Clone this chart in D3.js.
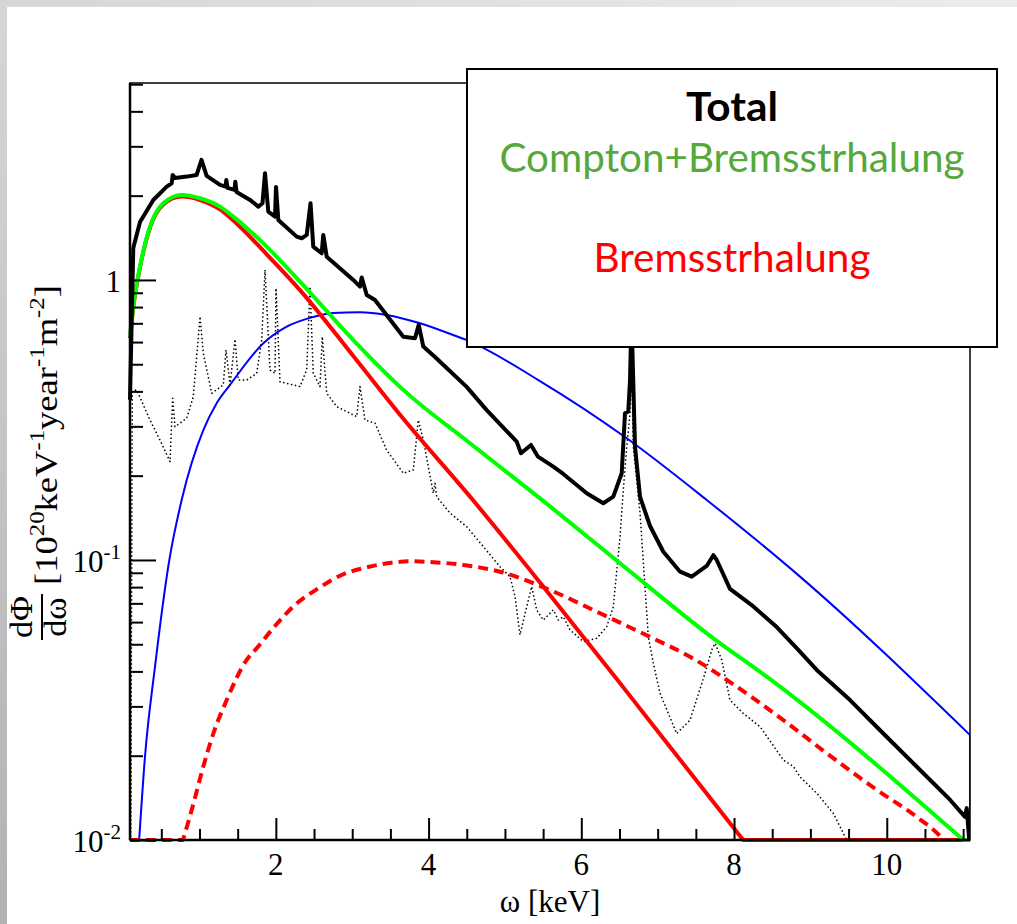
<!DOCTYPE html>
<html><head><meta charset="utf-8">
<script src="https://cdn.jsdelivr.net/npm/d3@7"></script>
<style>body{margin:0;background:#fff}svg{display:block}</style>
</head><body>
<svg id="chart" width="1017" height="924"></svg>
<script>
// ---------- data (energy in keV, flux in 1e20 keV^-1 year^-1 m^-2) ----------
const xDomain = [0.09, 11.09];
const yDomain = [0.01, 5.05];
const xMajorTicks = [2, 4, 6, 8, 10];
const xMinorTicks = [0.5,1,1.5,2.5,3,3.5,4.5,5,5.5,6.5,7,7.5,8.5,9,9.5,10.5,11];
const yMajorTicks = [0.01, 0.1, 1];
const yMinorTicks = [0.02,0.03,0.04,0.05,0.06,0.07,0.08,0.09,0.2,0.3,0.4,0.5,0.6,0.7,0.8,0.9,2,3,4,5];
const xTickLabels = ["2", "4", "6", "8", "10"];
const yTickLabels = [["10","-2"], ["10","-1"], ["1",""]];
const legendLabels = ["Total", "Compton+Bremsstrhalung", "Bremsstrhalung"];

const primakoffE = [0.21,0.286,0.417,0.605,0.767,1.05,1.225,1.40,1.836,2.142,2.447,2.748,3.102,3.452,3.888,4.32,4.499,5.437,6.595,7.642,8.864,11.09,11.09];
const primakoffFlux = [0.01,0.0198,0.0415,0.1,0.164,0.291,0.363,0.422,0.594,0.681,0.732,0.762,0.767,0.75,0.70,0.636,0.61,0.439,0.272,0.1638,0.0872,0.0237,0.01];

const comptonBremsE = [0.09,0.133,0.221,0.352,0.526,0.767,1.007,1.269,1.443,1.88,2.316,3.014,3.669,4.543,5.459,6.507,7.729,8.428,11.003,11.09];
const comptonBremsFlux = [0.627,0.803,1.116,1.55,1.879,2.012,1.958,1.827,1.683,1.315,0.986,0.61,0.405,0.261,0.166,0.0973,0.0525,0.0383,0.01,0.01];

const bremsE = [0.09,0.133,0.221,0.352,0.526,0.767,1.007,1.269,1.443,1.88,2.316,3.014,3.626,4.586,5.459,6.464,6.90,8.12,11.09];
const bremsFlux = [0.62,0.797,1.108,1.538,1.86,1.985,1.93,1.785,1.63,1.235,0.92,0.535,0.33,0.163,0.0831,0.0376,0.0265,0.01,0.01];

const comptonE = [0.09,0.784,0.898,1.05,1.181,1.356,1.618,1.749,1.989,2.251,2.556,2.883,3.19,3.517,3.757,3.996,4.455,4.935,5.59,6.245,6.90,7.424,8.035,8.646,9.214,9.869,10.39,10.70,10.74,11.09];
const comptonFlux = [0.01,0.01,0.0128,0.0183,0.024,0.0316,0.044,0.0484,0.0581,0.0691,0.0792,0.0889,0.0941,0.0978,0.0989,0.0984,0.096,0.0908,0.0781,0.0645,0.0531,0.0451,0.0353,0.0268,0.0204,0.0151,0.0121,0.0103,0.01,0.01];

const atomicE = [0.09,0.10,0.12,0.178,0.352,0.483,0.614,0.649,0.679,0.833,0.919,1.007,1.05,1.16,1.312,1.347,1.40,1.465,1.508,1.618,1.749,1.815,1.858,1.923,1.989,2.002,2.054,2.316,2.404,2.447,2.49,2.578,2.608,2.666,2.797,3.059,3.102,3.167,3.298,3.45,3.669,3.80,3.865,3.931,4.062,4.084,4.107,4.281,4.499,4.717,4.935,5.066,5.132,5.197,5.285,5.35,5.416,5.502,5.633,5.699,5.764,5.852,6.026,6.202,6.333,6.419,6.507,6.55,6.595,6.638,6.655,6.681,6.769,6.857,6.877,6.943,7.031,7.249,7.424,7.62,7.708,7.751,7.839,7.947,8.122,8.34,8.646,8.777,8.864,9.083,9.30,9.476,11.09];
const atomicFlux = [0.01,0.01,0.40,0.405,0.316,0.268,0.2244,0.378,0.299,0.321,0.383,0.74,0.547,0.394,0.422,0.562,0.422,0.614,0.439,0.439,0.464,0.61,1.086,0.477,0.464,0.934,0.433,0.416,0.477,0.946,0.464,0.416,0.627,0.394,0.353,0.325,0.416,0.316,0.308,0.247,0.204,0.2096,0.316,0.268,0.173,0.188,0.168,0.147,0.1315,0.1116,0.0946,0.0872,0.074,0.054,0.0681,0.0803,0.0663,0.061,0.0663,0.061,0.0627,0.0562,0.0511,0.0525,0.0578,0.0681,0.121,0.178,0.254,0.334,0.6,0.254,0.147,0.0645,0.0532,0.0428,0.0334,0.024,0.0268,0.0394,0.0477,0.0504,0.044,0.0316,0.0283,0.0254,0.0193,0.0183,0.0168,0.0147,0.01245,0.01,0.01];

const totalE = [0.09,0.112,0.133,0.221,0.395,0.571,0.636,0.649,0.679,0.833,0.963,1.026,1.094,1.269,1.341,1.351,1.367,1.458,1.469,1.485,1.662,1.77,1.825,1.858,1.901,1.989,2.002,2.032,2.273,2.339,2.404,2.454,2.49,2.6,2.621,2.666,3.014,3.102,3.124,3.19,3.298,3.669,3.822,3.871,3.931,4.084,4.499,4.761,5.154,5.21,5.341,5.433,5.633,5.764,6.071,6.288,6.419,6.529,6.572,6.615,6.638,6.657,6.703,6.769,6.90,7.074,7.293,7.446,7.642,7.729,7.773,7.947,8.231,8.559,8.82,9.083,9.519,9.955,10.39,10.83,11.025,11.047,11.08];
const totalFlux = [0.373,0.72,1.30,1.61,1.93,2.154,2.215,2.371,2.313,2.339,2.371,2.683,2.352,2.184,2.154,2.276,2.132,2.096,2.244,2.062,1.931,1.827,1.879,2.405,1.754,1.683,2.148,1.638,1.428,1.409,1.448,1.879,1.315,1.245,1.448,1.211,1.0,0.946,1.021,0.884,0.848,0.627,0.619,0.691,0.578,0.531,0.415,0.343,0.2646,0.2405,0.2575,0.2338,0.2155,0.2028,0.173,0.1594,0.1683,0.204,0.334,0.339,0.439,0.75,0.254,0.168,0.1322,0.107,0.0908,0.0872,0.0952,0.104,0.1,0.0788,0.069,0.0576,0.0484,0.0405,0.0316,0.024,0.0183,0.0139,0.0121,0.013,0.01];

// ---------- drawing ----------
const svg = d3.select("#chart");
const W = 1017, H = 924;
const plot = {left:130, right:970, top:83, bottom:840};

// slide-like grey border
const defs = svg.append("defs");
const gTop = defs.append("linearGradient").attr("id","gTop").attr("x1",0).attr("x2",1).attr("y1",0).attr("y2",0);
gTop.append("stop").attr("offset","0%").attr("stop-color","#d6d6d6");
gTop.append("stop").attr("offset","100%").attr("stop-color","#ececec");
const gLeft = defs.append("linearGradient").attr("id","gLeft").attr("x1",0).attr("x2",0).attr("y1",0).attr("y2",1);
gLeft.append("stop").attr("offset","0%").attr("stop-color","#d6d6d6");
gLeft.append("stop").attr("offset","100%").attr("stop-color","#b2b2b2");
svg.append("rect").attr("x",0).attr("y",0).attr("width",W).attr("height",H).attr("fill","#fff");
svg.append("rect").attr("x",0).attr("y",0).attr("width",W).attr("height",7).attr("fill","url(#gTop)");
svg.append("rect").attr("x",0).attr("y",0).attr("width",7).attr("height",H).attr("fill","url(#gLeft)");

const x = d3.scaleLinear().domain(xDomain).range([plot.left, plot.right]);
const y = d3.scaleLog().domain(yDomain).range([plot.bottom, plot.top]);
const cy = v => y(Math.max(v, yDomain[0]));

const zip = (es, vs) => es.map((e,i)=>({e, v:vs[i]}));
const smooth = d3.line().x(d=>x(d.e)).y(d=>cy(d.v)).curve(d3.curveMonotoneX);
const sharp = d3.line().x(d=>x(d.e)).y(d=>cy(d.v));
// smooth body with straight leading (a points) / trailing (b points) segments
function mixed(es, vs, a, b){
  const pts = zip(es, vs);
  const mid = pts.slice(a, pts.length - b);
  let d = smooth(mid);
  if (a > 0){
    const pre = pts.slice(0, a).map((p,i)=>(i===0?"M":"L")+x(p.e)+","+cy(p.v)).join("");
    d = pre + d.replace(/^M/, "L");
  }
  const post = pts.slice(pts.length - b).map(p=>"L"+x(p.e)+","+cy(p.v)).join("");
  return d + post;
}

svg.append("clipPath").attr("id","clip").append("rect")
  .attr("x",plot.left-3).attr("y",plot.top).attr("width",plot.right-plot.left+3).attr("height",plot.bottom-plot.top+2);
const curves = svg.append("g").attr("clip-path","url(#clip)").attr("fill","none")
  .attr("stroke-linejoin","round");

curves.append("path").attr("d", mixed(primakoffE, primakoffFlux, 0, 1))
  .attr("stroke","#0000ff").attr("stroke-width",2);
curves.append("path").attr("d", sharp(zip(atomicE, atomicFlux)))
  .attr("stroke","#000").attr("stroke-width",1.5).attr("stroke-dasharray","1.5,2.5");
curves.append("path").attr("d", mixed(comptonE, comptonFlux, 1, 1))
  .attr("stroke","#ff0000").attr("stroke-width",4).attr("stroke-dasharray","10,6");
curves.append("path").attr("d", mixed(bremsE, bremsFlux, 0, 1))
  .attr("stroke","#ff0000").attr("stroke-width",4);
curves.append("path").attr("d", mixed(comptonBremsE, comptonBremsFlux, 0, 1))
  .attr("stroke","#00ff00").attr("stroke-width",4);
curves.append("path").attr("d", sharp(zip(totalE, totalFlux)))
  .attr("stroke","#000").attr("stroke-width",4);

// frame
svg.append("rect").attr("x",plot.left).attr("y",plot.top)
  .attr("width",plot.right-plot.left).attr("height",plot.bottom-plot.top)
  .attr("fill","none").attr("stroke","#000").attr("stroke-width",1.5);
svg.append("line").attr("x1",plot.left).attr("x2",plot.right).attr("y1",plot.bottom).attr("y2",plot.bottom)
  .attr("stroke","#000").attr("stroke-width",2.5);
svg.append("line").attr("x1",plot.left).attr("x2",plot.left).attr("y1",plot.top).attr("y2",plot.bottom)
  .attr("stroke","#000").attr("stroke-width",2.5);

// axes (ticks inward)
function styleAxis(g){ g.select(".domain").remove(); g.selectAll("line").attr("stroke","#000").attr("stroke-width",2); g.selectAll("text").remove(); }
svg.append("g").attr("transform",`translate(0,${plot.bottom})`)
  .call(d3.axisBottom(x).tickValues(xMajorTicks).tickSize(-22)).call(styleAxis);
svg.append("g").attr("transform",`translate(0,${plot.bottom})`)
  .call(d3.axisBottom(x).tickValues(xMinorTicks).tickSize(-11)).call(styleAxis);
svg.append("g").attr("transform",`translate(${plot.left},0)`)
  .call(d3.axisLeft(y).tickValues(yMajorTicks).tickSize(-26)).call(styleAxis);
svg.append("g").attr("transform",`translate(${plot.left},0)`)
  .call(d3.axisLeft(y).tickValues(yMinorTicks).tickSize(-13)).call(styleAxis);

const serif = "'Liberation Serif','Times New Roman',serif";
// x tick labels
xMajorTicks.forEach((t,i)=>{
  svg.append("text").attr("x",x(t)).attr("y",875).attr("text-anchor","middle")
    .attr("font-family",serif).attr("font-size",31).text(xTickLabels[i]);
});
// y tick labels
yMajorTicks.forEach((t,i)=>{
  const [base,sup] = yTickLabels[i];
  const tx = svg.append("text").attr("x",121).attr("y",y(t)+12).attr("text-anchor","end")
    .attr("font-family",serif).attr("font-size",31);
  tx.append("tspan").text(base);
  if(sup) tx.append("tspan").attr("font-size",21).attr("dy",-13).text(sup);
});
// x title
svg.append("text").attr("x",(plot.left+plot.right)/2).attr("y",912).attr("text-anchor","middle")
  .attr("font-family",serif).attr("font-size",31).text("ω [keV]");

// y title
const yl = svg.append("g").attr("transform","translate(57,617) rotate(-90)")
  .attr("font-family",serif).attr("font-size",31);
const fr = yl.append("g").attr("transform","scale(1.1,1)");
fr.append("text").attr("x",0).attr("y",-25).attr("text-anchor","middle").text("dΦ");
fr.append("line").attr("x1",-21).attr("x2",21).attr("y1",-15).attr("y2",-15).attr("stroke","#000").attr("stroke-width",2);
fr.append("text").attr("x",0).attr("y",9).attr("text-anchor","middle").text("dω");
const br = yl.append("g").attr("transform","translate(32,0) scale(1.18,1)").append("text").attr("x",0).attr("y",0);
const parts = [["[10",0],["20",1],["keV",0],["-1",1],["year",0],["-1",1],["m",0],["-2",1],["]",0]];
let up = false;
parts.forEach(([s,isSup])=>{
  const t = br.append("tspan").text(s);
  if(isSup){ t.attr("font-size",21).attr("dy", up? 0 : -13); up = true; }
  else { t.attr("dy", up? 13 : 0); up = false; }
});

// legend
const lg = svg.append("g");
lg.append("rect").attr("x",467).attr("y",69).attr("width",530).attr("height",278)
  .attr("fill","#fff").attr("stroke","#000").attr("stroke-width",2);
const sans = "Lato,'Open Sans',sans-serif";
lg.append("text").attr("x",732).attr("y",121).attr("text-anchor","middle").attr("font-family",sans)
  .attr("font-weight","bold").attr("font-size",40).attr("fill","#000")
  .attr("textLength",92).attr("lengthAdjust","spacingAndGlyphs").text(legendLabels[0]);
lg.append("text").attr("x",732).attr("y",172).attr("text-anchor","middle").attr("font-family",sans)
  .attr("font-size",40).attr("fill","#55a83a")
  .attr("textLength",465).attr("lengthAdjust","spacingAndGlyphs").text(legendLabels[1]);
lg.append("text").attr("x",732).attr("y",272).attr("text-anchor","middle").attr("font-family",sans)
  .attr("font-size",40).attr("fill","#ff0000")
  .attr("textLength",277).attr("lengthAdjust","spacingAndGlyphs").text(legendLabels[2]);
</script>
</body></html>
